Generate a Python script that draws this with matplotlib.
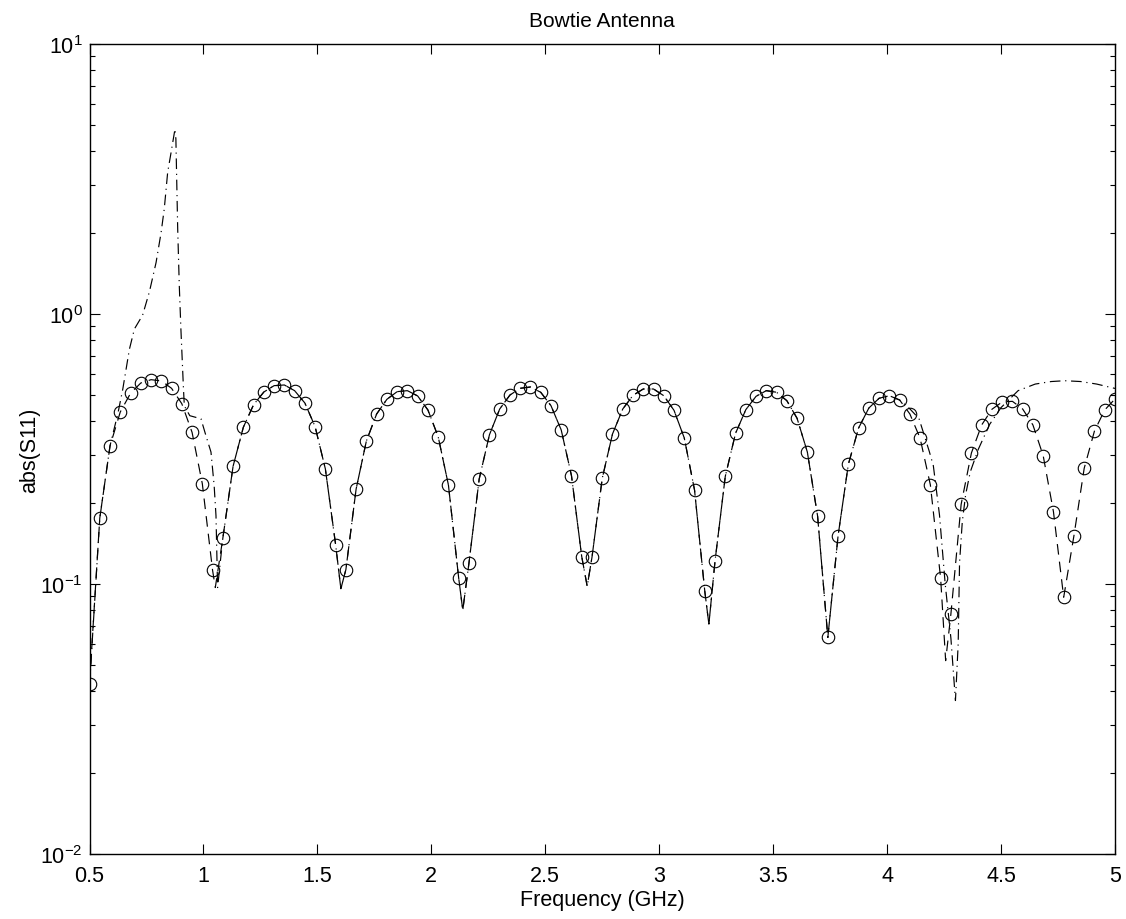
import matplotlib
matplotlib.use("Agg")
import matplotlib.pyplot as plt
import numpy as np

plt.rcParams['font.family'] = ['Liberation Sans', 'DejaVu Sans']
plt.rcParams['mathtext.default'] = 'regular'

# sampled points (circles), 0.5 .. 5 GHz in 0.045 GHz steps
freq = np.linspace(0.5, 5.0, 101)
s11_pts = [0.0426, 0.1755, 0.3245, 0.4336, 0.5085, 0.555, 0.571, 0.565, 0.5305, 0.4653,
           0.3645, 0.2352, 0.1124, 0.1477, 0.2729, 0.3805, 0.4613, 0.514, 0.5426, 0.5458,
           0.52, 0.468, 0.3825, 0.2667, 0.1398, 0.113, 0.2249, 0.3386, 0.4262, 0.483,
           0.5156, 0.52, 0.497, 0.441, 0.3512, 0.2326, 0.1052, 0.1193, 0.2447, 0.357,
           0.4446, 0.501, 0.5305, 0.5365, 0.5129, 0.4575, 0.3718, 0.2518, 0.1263, 0.1256,
           0.2462, 0.3593, 0.4446, 0.4997, 0.5274, 0.5274, 0.498, 0.4396, 0.3473, 0.2229,
           0.094, 0.1217, 0.2505, 0.3614, 0.4421, 0.4955, 0.52, 0.5129, 0.4775, 0.4108,
           0.3082, 0.1786, 0.0634, 0.151, 0.2774, 0.3782, 0.4484, 0.4873, 0.498, 0.4803,
           0.4262, 0.3463, 0.2326, 0.105, 0.0774, 0.1973, 0.3056, 0.388, 0.4436, 0.4722,
           0.4747, 0.4446, 0.388, 0.2987, 0.1853, 0.0893, 0.151, 0.2682, 0.3686, 0.441,
           0.4843]

# deeper minima of the dashed curve between samples
null_f = [1.052, 1.603, 2.138, 2.684, 3.218, 4.257]
null_v = [0.097, 0.096, 0.080, 0.098, 0.071, 0.052]

# dash-dot curve where it departs from the dashed one
dd_lo_f = [0.5, 0.545, 0.59, 0.625, 0.646, 0.675, 0.697, 0.733, 0.763, 0.792, 0.814,
           0.828, 0.843, 0.858, 0.875, 0.879, 0.887, 0.894, 0.901, 0.912, 0.916, 0.94,
           0.967, 0.989, 1.011, 1.033, 1.047, 1.055, 1.062]
dd_lo_v = [0.042, 0.175, 0.325, 0.43, 0.527, 0.74, 0.88, 0.99, 1.21, 1.55, 2.0,
           2.45, 3.35, 3.97, 4.84, 4.45, 2.06, 1.27, 0.88, 0.535, 0.457, 0.42,
           0.414, 0.409, 0.354, 0.308, 0.231, 0.179, 0.097]
dd_hi_f = [4.055, 4.1, 4.14, 4.185, 4.203, 4.23, 4.255, 4.28, 4.30, 4.312, 4.318,
           4.33, 4.345, 4.365, 4.40, 4.45, 4.5, 4.575, 4.65, 4.72, 4.78, 4.85, 4.92, 5.0]
dd_hi_v = [0.48, 0.445, 0.41, 0.31, 0.274, 0.18, 0.10, 0.063, 0.037, 0.06, 0.12,
           0.17, 0.215, 0.26, 0.315, 0.39, 0.45, 0.52, 0.55, 0.562, 0.566, 0.562, 0.55, 0.53]

# dashed curve: samples plus the minima
pts = np.array(s11_pts)
dash_f = np.concatenate([freq, null_f])
dash_v = np.concatenate([pts, null_v])
order = np.argsort(dash_f)
dash_f, dash_v = dash_f[order], dash_v[order]

# dash-dot curve: own low/high parts, dashed curve in between
mid = (dash_f > 1.07) & (dash_f < 4.05)
dd_f = np.concatenate([dd_lo_f, dash_f[mid], dd_hi_f])
dd_v = np.concatenate([dd_lo_v, dash_v[mid], dd_hi_v])

fig = plt.figure(figsize=(11.26, 9.2), dpi=100)
ax = fig.add_axes([0.0795, 0.0707, 0.9107, 0.8804])

ax.semilogy(dash_f, dash_v, color='k', lw=0.85, linestyle=(0, (9, 6)))
ax.semilogy(dd_f, dd_v, color='k', lw=0.85, linestyle=(0, (9, 4, 1, 4)))
ax.semilogy(freq, pts, 'o', color='k', mfc='none', ms=9, mew=0.8)

ax.set_xlim(0.5, 5)
ax.set_ylim(1e-2, 1e1)
ax.set_xticks(np.arange(0.5, 5.01, 0.5))
ax.set_xticklabels(['0.5', '1', '1.5', '2', '2.5', '3', '3.5', '4', '4.5', '5'])
ax.tick_params(which='both', direction='in', top=True, right=True, labelsize=15.5)
ax.tick_params(axis='x', pad=8)
ax.tick_params(axis='y', pad=5)
ax.tick_params(which='major', length=7.5, width=0.8)
ax.tick_params(which='minor', length=3.8, width=0.8)
for sp in ax.spines.values():
    sp.set_linewidth(1.0)

ax.set_title('Bowtie Antenna', fontsize=15, pad=13)
ax.set_xlabel('Frequency (GHz)', fontsize=15.5, labelpad=2)
ax.set_ylabel('abs(S11)', fontsize=15.5, labelpad=0)

fig.savefig('out.png', dpi=100)
